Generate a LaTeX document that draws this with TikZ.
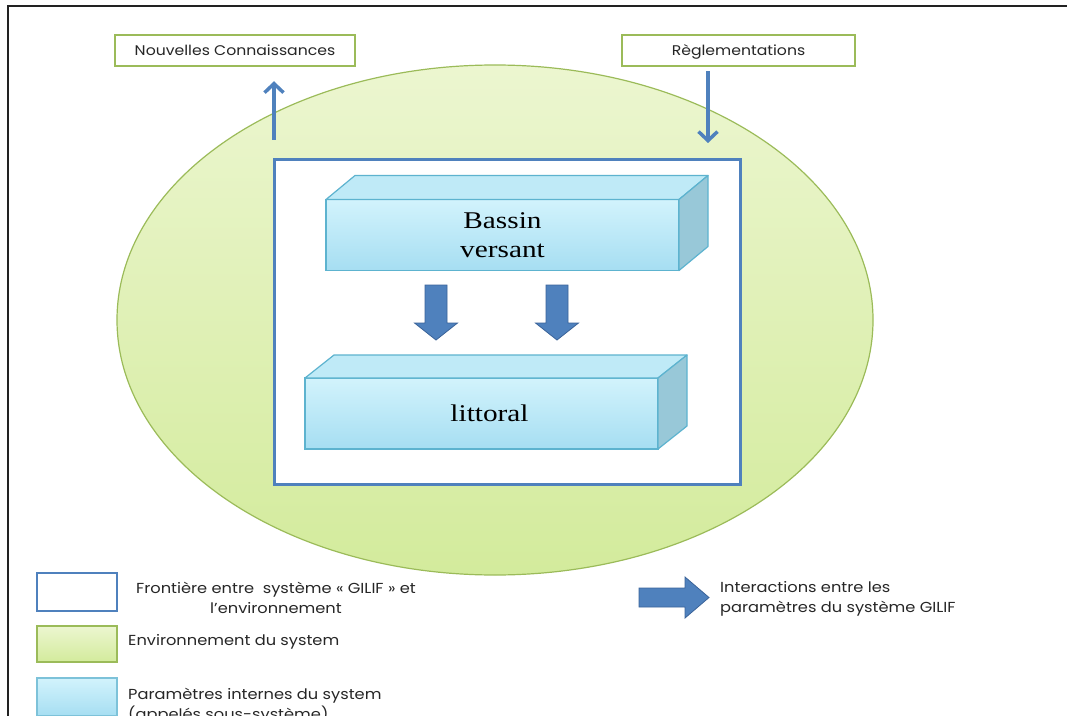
\documentclass[tikz,border=0pt]{standalone}
\usepackage{fontspec}
\setmainfont[FakeStretch=1.22]{Liberation Serif}
\newfontfamily\labelfont[FakeStretch=1.12]{Poppins}
\usetikzlibrary{arrows.meta,calc,shapes.geometric}

\definecolor{envgreen}{HTML}{9BBB59}
\definecolor{envfillA}{HTML}{ECF6D0}
\definecolor{envfillB}{HTML}{D3EB9C}
\definecolor{sysblue}{HTML}{4F81BD}
\definecolor{sysblueDark}{HTML}{3A6399}
\definecolor{cyanA}{HTML}{D2F3FC}
\definecolor{cyanB}{HTML}{A6DEF2}
\definecolor{cyanEdge}{HTML}{5DB3CF}
\definecolor{cyanSide}{HTML}{98C8D8}
\definecolor{cyanTop}{HTML}{BFEAF7}
\definecolor{framegray}{HTML}{222222}

\tikzset{
  labelbox/.style={draw=envgreen, line width=2.5pt, fill=white, inner sep=0pt,
    text height=12pt, text depth=1pt,
    font=\labelfont\fontsize{14}{16}\selectfont, text=black!85},
  boundary/.style={draw=sysblue, line width=3pt, fill=white, outer sep=0pt},
  subsys/.style={draw=cyanEdge, line width=1.2pt, top color=cyanA, bottom color=cyanB,
    outer sep=0pt, inner sep=0pt, font=\fontsize{24}{29}\selectfont, align=center},
  sideface/.style={draw=cyanEdge, line width=1.2pt, fill=cyanSide, line join=round},
  topface/.style={draw=cyanEdge, line width=1.2pt, fill=cyanTop, line join=round},
  flow/.style={draw=sysblue, line width=4.5pt,
    -{Straight Barb[length=9pt,width=19pt,line width=3.5pt]}},
  blockarrow/.style={fill=sysblue, draw=sysblueDark, line width=0.8pt, line join=miter},
  legendtext/.style={font=\labelfont\fontsize{14.5}{20}\selectfont, text=black!85, inner sep=0pt},
  downarrow/.pic={
    \path[blockarrow] (-11,0) -- (11,0) -- (11,38) -- (21.5,38) -- (0,55)
      -- (-21.5,38) -- (-11,38) -- cycle;
  }
}

\begin{document}
\begin{tikzpicture}[x=1pt, y=-1pt]
  \useasboundingbox (0,0) rectangle (1067,722);
  \clip (0,0) rectangle (1067,715);

  % page frame
  \draw[framegray, line width=1.8pt] (8,722) -- (8,6) -- (1067,6);

  % environment of the system
  \node (env) [ellipse, draw=envgreen, line width=1.2pt,
    top color=envfillA, bottom color=envfillB,
    minimum width=756pt, minimum height=510pt] at (495,320) {};

  % external inputs / outputs
  \node (nc) [labelbox, minimum width=240pt, minimum height=31pt] at (235,50.5)
    {Nouvelles Connaissances};
  \node (reg) [labelbox, minimum width=233pt, minimum height=31pt] at (738.5,50.5)
    {Règlementations};

  % boundary of the GILIF system
  \node (sys) [boundary, minimum width=466pt, minimum height=324pt] at (507,322) {};

  % flows across the boundary
  \coordinate (outstart) at (274,140);
  \draw[flow] (outstart) -- ($(outstart |- nc.south)+(0,14)$);
  \coordinate (inend) at (708,143);
  \draw[flow] ($(inend |- reg.south)+(0,4)$) -- (inend);

  % sub-system: catchment
  \node (bv) [subsys, minimum width=353pt, minimum height=71pt] at (502.5,235)
    {Bassin\\versant};
  \path[topface] (bv.north west) -- ++(29,-24) -- ($(bv.north east)+(29,-24)$)
    -- (bv.north east) -- cycle;
  \path[sideface] (bv.north east) -- ++(29,-24) -- ($(bv.south east)+(29,-24)$)
    -- (bv.south east) -- cycle;

  % sub-system: coastline
  \node (lit) [subsys, minimum width=353pt, minimum height=71pt] at (481.5,413.5) {};
  \node at ($(lit.center)+(8,0)$) [font=\fontsize{24}{29}\selectfont] {littoral};
  \path[topface] (lit.north west) -- ++(29,-23) -- ($(lit.north east)+(29,-23)$)
    -- (lit.north east) -- cycle;
  \path[sideface] (lit.north east) -- ++(29,-23) -- ($(lit.south east)+(29,-23)$)
    -- (lit.south east) -- cycle;

  % interactions between the sub-systems
  \pic at (436,285) {downarrow};
  \pic at (557,285) {downarrow};

  % legend (multi-line labels are placed by the baseline of their last line)
  \node (lgsys) [draw=sysblue, line width=2pt, fill=white,
    minimum width=80pt, minimum height=38pt] at (77,592) {};
  \node (lgsyst) [legendtext, align=center, anchor=base] at (276,613)
    {Frontière entre\ \ système « GILIF » et\\l’environnement};

  \node (lgenv) [draw=envgreen, line width=1.5pt, top color=envfillA, bottom color=envfillB,
    minimum width=80pt, minimum height=36pt] at (77,644) {};
  \node (lgenvt) [legendtext, anchor=base west] at (128,645) {Environnement du system};

  \node (lgsub) [draw=cyanEdge!80, line width=1.5pt, top color=cyanA, bottom color=cyanB,
    minimum width=80pt, minimum height=38pt] at (77,697) {};
  \node (lgsubt) [legendtext, anchor=base west, align=left] at (128,719)
    {Paramètres internes du system\\(appelés sous-système)};

  \path[blockarrow] (639,588) -- (685,588) -- (685,577) -- (709,597.5) -- (685,618)
    -- (685,607) -- (639,607) -- cycle;
  \node (lgint) [legendtext, anchor=base west, align=left] at (720,612)
    {Interactions entre les\\paramètres du système GILIF};
\end{tikzpicture}
\end{document}
